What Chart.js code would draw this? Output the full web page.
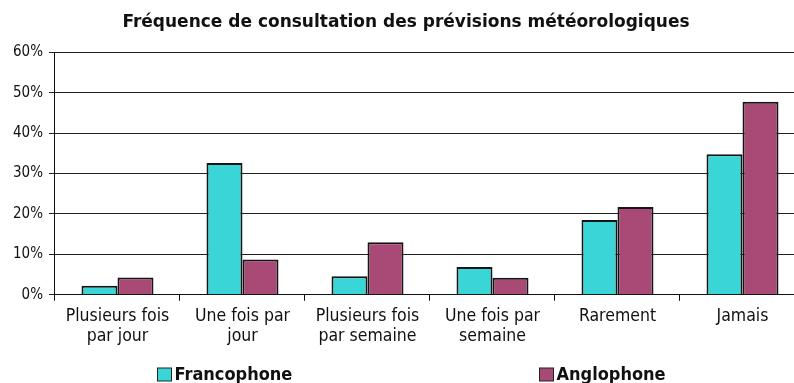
<!DOCTYPE html>
<html>
<head>
<meta charset="utf-8">
<script src="https://cdn.jsdelivr.net/npm/chart.js@4/dist/chart.umd.min.js"></script>
<style>
  html, body { margin: 0; padding: 0; background: #fff; overflow: hidden; }
  #wrap { width: 812px; height: 383px; }
</style>
</head>
<body>
<div id="wrap"><canvas id="freq"></canvas></div>
<script>
// categories (two-line labels) and survey results in percent
const categories = [
  ['Plusieurs fois', 'par jour'],
  ['Une fois par', 'jour'],
  ['Plusieurs fois', 'par semaine'],
  ['Une fois par', 'semaine'],
  ['Rarement'],
  ['Jamais']
];
const francophone = [2.2, 32.6, 4.6, 6.9, 18.5, 34.8];
const anglophone = [4.3, 8.7, 13.0, 4.2, 21.7, 47.8];
const yTicks = [0, 10, 20, 30, 40, 50, 60];

const sans = '"DejaVu Sans", sans-serif';
const cond = '"DejaVu Sans Condensed", "DejaVu Sans", sans-serif';

// legend drawn by hand: the two entries sit far apart under the plot
const wideLegend = {
  id: 'wideLegend',
  afterDraw(chart) {
    const ctx = chart.ctx;
    const anchors = [0.193, 0.664];
    const y = chart.height - 8;
    ctx.save();
    ctx.font = 'bold 18px ' + cond;
    ctx.textBaseline = 'middle';
    chart.data.datasets.forEach((ds, i) => {
      const x = Math.round(chart.width * anchors[i]) + 0.5;
      ctx.fillStyle = ds.backgroundColor;
      ctx.fillRect(x, y - 7, 14, 13);
      ctx.strokeStyle = '#222';
      ctx.lineWidth = 1;
      ctx.strokeRect(x, y - 7, 14, 13);
      ctx.fillStyle = '#111';
      ctx.fillText(ds.label, x + 17, y);
    });
    ctx.restore();
  }
};

new Chart(document.getElementById('freq'), {
  type: 'bar',
  data: {
    labels: categories,
    datasets: [{
      label: 'Francophone',
      data: francophone,
      backgroundColor: '#3ad5d6',
      borderColor: '#151515',
      borderWidth: 2,
      barPercentage: 1,
      categoryPercentage: 0.576
    }, {
      label: 'Anglophone',
      data: anglophone,
      backgroundColor: '#a94a76',
      borderColor: '#151515',
      borderWidth: 2,
      barPercentage: 1,
      categoryPercentage: 0.576
    }]
  },
  plugins: [wideLegend],
  options: {
    responsive: true,
    maintainAspectRatio: false,
    animation: false,
    layout: { padding: { left: 7, right: 7, top: 12, bottom: 30 } },
    plugins: {
      title: {
        display: true,
        text: 'Fréquence de consultation des prévisions météorologiques',
        color: '#111',
        font: { family: sans, size: 17, weight: 'bold' },
        padding: { top: 0, bottom: 20 }
      },
      legend: { display: false },
      tooltip: { enabled: false }
    },
    scales: {
      x: {
        border: { display: true, color: '#111', width: 1 },
        grid: {
          offset: true,
          drawOnChartArea: false,
          drawTicks: true,
          tickLength: 6,
          color: '#111'
        },
        ticks: {
          color: '#111',
          maxRotation: 0,
          autoSkip: false,
          padding: 6,
          font: { family: cond, size: 17.5, lineHeight: 1.15 }
        }
      },
      y: {
        min: 0,
        max: 60,
        afterBuildTicks: axis => { axis.ticks = yTicks.map(v => ({ value: v })); },
        border: { display: true, color: '#111', width: 1 },
        grid: { color: '#222', lineWidth: 1, tickLength: 6 },
        ticks: {
          color: '#111',
          padding: 6,
          font: { family: cond, size: 15 },
          callback: v => v + '%'
        }
      }
    }
  }
});
</script>
</body>
</html>
